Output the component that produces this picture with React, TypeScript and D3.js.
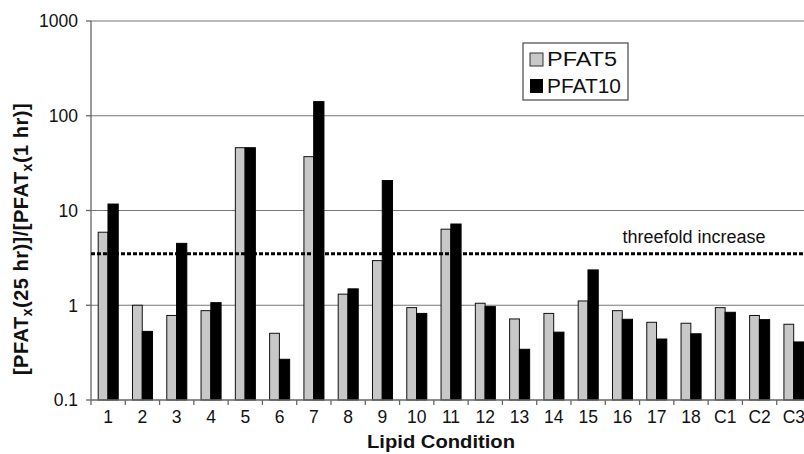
import React from "react";
import * as d3 from "d3";

const categories = ["1","2","3","4","5","6","7","8","9","10","11","12","13","14","15","16","17","18","C1","C2","C3"];
const pfat5 = [5.9, 1.0, 0.78, 0.877, 46, 0.506, 37, 1.31, 2.96, 0.944, 6.35, 1.05, 0.717, 0.82, 1.11, 0.877, 0.661, 0.646, 0.944, 0.78, 0.63];
const pfat10 = [11.7, 0.53, 4.5, 1.065, 46, 0.269, 141, 1.49, 20.7, 0.82, 7.2, 0.967, 0.343, 0.52, 2.36, 0.711, 0.44, 0.50, 0.843, 0.705, 0.41];
const yTicks = [0.1, 1, 10, 100, 1000];
const yTickLabels = ["0.1", "1", "10", "100", "1000"];
const threshold = 3.5;
const seriesNames = ["PFAT5", "PFAT10"];

const W = 804, H = 454;
const left = 91, right = 811, top = 21, bottom = 400;

export default function App() {
  const x = d3.scaleBand<string>().domain(categories).range([left, right]).paddingInner(0).paddingOuter(0);
  const y = d3.scaleLog().domain([0.1, 1000]).range([bottom, top]);
  const bw = x.bandwidth();
  const off = bw * 0.21;
  const gw = bw * 0.285;
  const font = "Arial, 'Liberation Sans', sans-serif";
  return (
    <svg width={W} height={H} style={{ position: "absolute", left: 0, top: 0, background: "#fff" }} fontFamily={font}>
      {yTicks.slice(1).map((t) => (
        <line key={t} x1={left} x2={W} y1={y(t)} y2={y(t)} stroke="#777" strokeWidth={1.2} />
      ))}
      {yTicks.map((t, i) => (
        <g key={"yt" + t}>
          <line x1={left - 5} x2={left} y1={y(t)} y2={y(t)} stroke="#666" strokeWidth={1.3} />
          <text x={78} y={y(t)} dy="0.36em" textAnchor="end" fontSize={17.5} fill="#111">{yTickLabels[i]}</text>
        </g>
      ))}
      {categories.map((c, i) => {
        const x0 = x(c)!;
        return (
          <g key={c}>
            <rect x={x0 + off} y={y(pfat5[i])} width={gw} height={bottom - y(pfat5[i])} fill="#c8c8c8" stroke="#111" strokeWidth={1} />
            <rect x={x0 + off + gw} y={y(pfat10[i])} width={gw * 1.05} height={bottom - y(pfat10[i])} fill="#000" stroke="#000" strokeWidth={1} />
            <line x1={x0 + bw} x2={x0 + bw} y1={bottom} y2={bottom + 5} stroke="#666" strokeWidth={1.3} />
            <text x={x0 + bw / 2} y={423} textAnchor="middle" fontSize={17.5} fill="#111">{c}</text>
          </g>
        );
      })}
      <line x1={left} x2={left} y1={bottom + 5} y2={bottom} stroke="#666" strokeWidth={1.3} />
      <line x1={left} x2={left} y1={top} y2={bottom} stroke="#666" strokeWidth={1.3} />
      <line x1={left} x2={W} y1={bottom} y2={bottom} stroke="#666" strokeWidth={1.3} />
      <line x1={left} x2={W} y1={y(threshold)} y2={y(threshold)} stroke="#000" strokeWidth={3} strokeDasharray="4 2" />
      <text x={694} y={243} textAnchor="middle" fontSize={18} fill="#111">threefold increase</text>
      <g>
        <rect x={523} y={43} width={105} height={57} fill="#fff" stroke="#555" strokeWidth={1.3} />
        <rect x={530} y={53} width={13} height={13} fill="#c8c8c8" stroke="#333" strokeWidth={1} />
        <text x={547} y={66} fontSize={20} fill="#111" textLength={70} lengthAdjust="spacingAndGlyphs">{seriesNames[0]}</text>
        <rect x={530} y={79} width={13} height={14} fill="#000" />
        <text x={547} y={93} fontSize={20} fill="#111" textLength={74} lengthAdjust="spacingAndGlyphs">{seriesNames[1]}</text>
      </g>
      <text x={441} y={448} textAnchor="middle" fontSize={19} fontWeight="bold" fill="#111" textLength={148} lengthAdjust="spacingAndGlyphs">Lipid Condition</text>
      <text transform={`translate(28,${239}) rotate(-90)`} textAnchor="middle" fontSize={20} fontWeight="bold" fill="#111" letterSpacing={0.5}>
        [PFAT<tspan fontSize={14} dy={4}>x</tspan><tspan dy={-4}>(25 hr)]/[PFAT</tspan><tspan fontSize={14} dy={4}>x</tspan><tspan dy={-4}>(1 hr)]</tspan>
      </text>
    </svg>
  );
}
